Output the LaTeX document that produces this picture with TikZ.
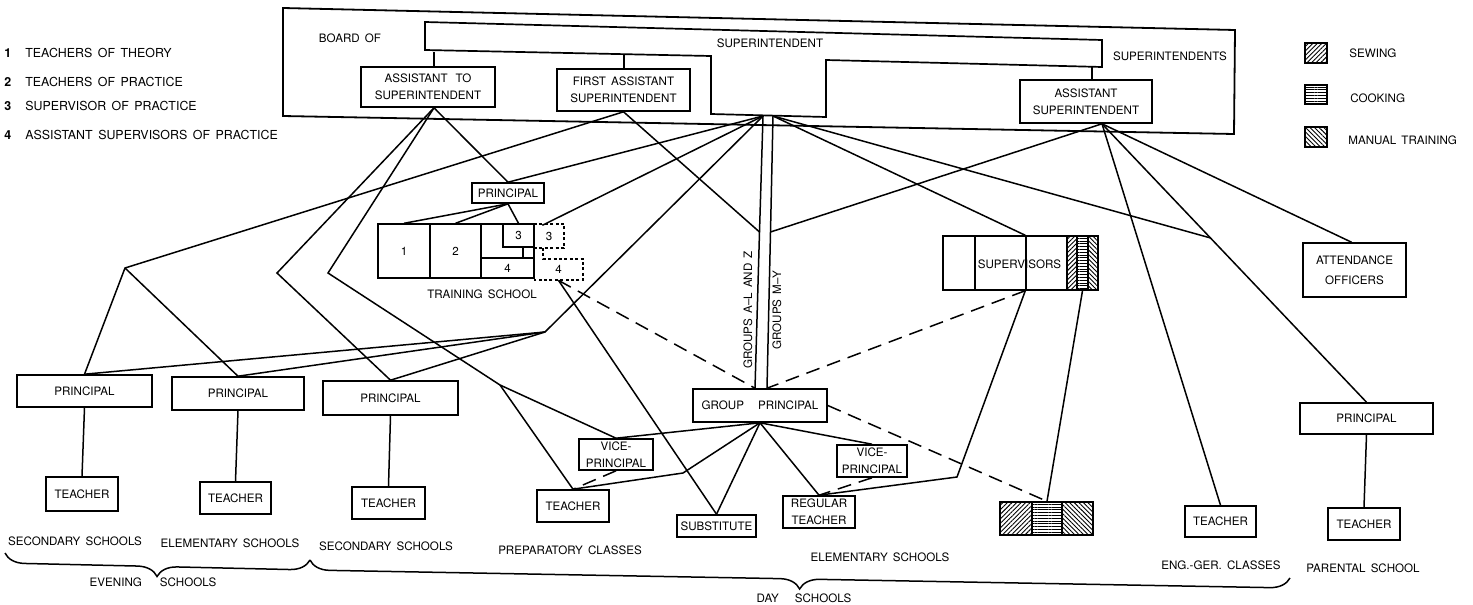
\documentclass[tikz,border=0pt]{standalone}
\usepackage{fontspec}
\setmainfont{TeX Gyre Heros}[WordSpace=1.6]
\usetikzlibrary{calc,patterns.meta,decorations.pathreplacing}
\newcommand\bxf{\fontsize{5.8}{8.5}\selectfont}
\newcommand\lgf{\fontsize{6.2}{7}\selectfont}
\begin{document}
\begin{tikzpicture}[x=0.5pt,y=-0.5pt,
  R/.style n args={4}{at={({(#1+#3)/2},{(#2+#4)/2})},minimum width={(#3-#1)*0.5pt},minimum height={(#4-#2)*0.5pt}},
  bx/.style={draw,line width=0.8pt,inner sep=0pt,align=center,font=\bxf},
  cell/.style={draw,line width=0.7pt,inner sep=0pt,font=\bxf},
  txt/.style={inner sep=0pt,font=\bxf,align=center},
  lgd/.style={inner sep=0pt,font=\lgf,anchor=west},
  lgn/.style={inner sep=0pt,font=\lgf\bfseries,anchor=west},
  lgr/.style={inner sep=0pt,font=\bxf,anchor=west},
  ln/.style={line width=0.75pt},
  dl/.style={line width=0.75pt,dash pattern=on 7pt off 4pt},
  dbox/.style={line width=0.7pt,dash pattern=on 1.5pt off 1.2pt},
  sew/.style={pattern={Lines[angle=45,distance=1.6pt,line width=0.45pt]}},
  cook/.style={pattern={Lines[angle=0,distance=1.4pt,line width=0.45pt]}},
  man/.style={pattern={Lines[angle=-45,distance=1.6pt,line width=0.45pt]}},
  brc/.style={decorate,decoration={brace,mirror,amplitude=10pt},line width=0.75pt},
]
\useasboundingbox (0,0) rectangle (1473,605);

% ---------- left legend
\node[lgn] (k1) at (4,53) {1};
\node[lgd] (k1t) at (25,53) {TEACHERS OF THEORY};
\node[lgn] (k2) at (4,82) {2};
\node[lgd] (k2t) at (25,82) {TEACHERS OF PRACTICE};
\node[lgn] (k3) at (4,106) {3};
\node[lgd] (k3t) at (25,106) {SUPERVISOR OF PRACTICE};
\node[lgn] (k4) at (4,135) {4};
\node[lgd] (k4t) at (25,135) {ASSISTANT SUPERVISORS OF PRACTICE};

% ---------- right legend
\node[cell,sew,R={1305}{43}{1327}{63}] (lsew) {};
\node[lgr] (lsewt) at (1349,53) {SEWING};
\node[cell,cook,R={1305}{85}{1327}{104}] (lcook) {};
\node[lgr] (lcookt) at (1350,98) {COOKING};
\node[cell,man,R={1305}{127}{1327}{147}] (lman) {};
\node[lgr] (lmant) at (1348,140) {MANUAL TRAINING};

% ---------- board of superintendents
\draw[line width=0.9pt] (283,8) -- (1235,30) -- (1234,134) -- (283,116) -- cycle;
\node[txt] (boardof) at (350,38) {BOARD OF};
\node[txt] (supts) at (1170,56) {SUPERINTENDENTS};
\draw[line width=0.85pt] (425,22) -- (1102,40) -- (1102,67) -- (826,60) -- (826,117)
  -- (711,114) -- (711,56) -- (425,50) -- cycle;
\node[txt] (supt) at (770,43) {SUPERINTENDENT};
\coordinate (supL) at (763,116);
\coordinate (supR) at (773,116);
\coordinate (barA) at (434,52);
\coordinate (barB) at (624,54);
\coordinate (barC) at (1092,67);

\node[bx,R={361}{67}{495}{107}] (ats) {ASSISTANT\hspace{4pt}TO\\SUPERINTENDENT};
\node[bx,R={557}{69}{690}{111}] (fas) {FIRST ASSISTANT\\SUPERINTENDENT};
\node[bx,R={1020}{80}{1152}{123}] (asp) {ASSISTANT\\SUPERINTENDENT};
\draw[ln] (barA) -- (barA |- ats.north);
\draw[ln] (barB) -- (barB |- fas.north);
\draw[ln] (barC) -- (barC |- asp.north);
\coordinate (atsB) at ($(ats.south)+(6,0)$);
\coordinate (aspB) at ($(asp.south)+(16,0)$);

% ---------- training school
\node[bx,R={472}{183}{544}{203}] (tp) {PRINCIPAL};
\node[cell,R={378}{224}{430}{278}] (c1) {1};
\node[cell,R={430}{224}{481}{278}] (c2) {2};
\node[cell,R={481}{224}{534}{278}] (cR) {};
\node[cell,R={503}{224}{534}{247}] (c3) {3};
\node[cell,R={523}{247}{534}{258}] (c3s) {};
\node[cell,R={481}{258}{534}{278}] (c4) {4};
\node[cell,dbox,R={534}{224}{564}{248}] (d3) {3};
\node[txt,R={534}{259}{583}{280}] (d4) {4};
\draw[dbox] (543,248) -- (543,259) -- (583,259) -- (583,280) -- (534,280);
\node[txt] (tslbl) at (482,294) {TRAINING SCHOOL};

% ---------- supervisors
\node[cell,R={943}{236}{975}{290}] (sv1) {};
\node[cell,R={975}{236}{1026}{290}] (sv2) {};
\node[cell,R={1026}{236}{1067}{290}] (sv3) {};
\node[cell,sew,R={1067}{236}{1077}{290}] (sv4) {};
\node[cell,cook,R={1077}{236}{1088}{290}] (sv5) {};
\node[cell,man,R={1088}{236}{1098}{290}] (sv6) {};
\node[txt] (svt) at (1019.5,264) {SUPERVISORS};

\node[bx,R={1303}{243}{1406}{297},font=\fontsize{5.8}{10}\selectfont] (att) {ATTENDANCE\\OFFICERS};

% ---------- day schools
\node[bx,R={693}{389}{827}{422}] (gp) {GROUP\hspace{7pt}PRINCIPAL};
\node[bx,R={579}{439}{653}{470}] (vpl) {VICE-\\PRINCIPAL};
\node[bx,R={537}{490}{609}{522}] (tch) {TEACHER};
\node[bx,R={677}{515}{756}{537}] (sub) {SUBSTITUTE};
\node[bx,R={837}{445}{907}{477}] (vpr) {VICE-\\PRINCIPAL};
\node[bx,R={783}{496}{855}{528}] (rt) {REGULAR\\TEACHER};
\node[cell,sew,R={1000}{502}{1032}{535}] (hb1) {};
\node[cell,cook,R={1032}{502}{1062}{535}] (hb2) {};
\node[cell,man,R={1062}{502}{1093}{535}] (hb3) {};
\node[bx,R={1185}{506}{1256}{537}] (et) {TEACHER};
\node[bx,R={1300}{403}{1433}{434}] (pp) {PRINCIPAL};
\node[bx,R={1328}{508}{1400}{540}] (pt) {TEACHER};

% ---------- evening schools
\node[bx,R={17}{375}{152}{407}] (p1) {PRINCIPAL};
\node[bx,R={46}{477}{118}{511}] (t1) {TEACHER};
\node[bx,R={172}{377}{304}{410}] (p2) {PRINCIPAL};
\node[bx,R={200}{482}{271}{514}] (t2) {TEACHER};
\node[bx,R={323}{381}{458}{415}] (p3) {PRINCIPAL};
\node[bx,R={352}{487}{425}{519}] (t3) {TEACHER};

% ---------- labels
\node[txt] (l1) at (75,541) {SECONDARY SCHOOLS};
\node[txt] (l2) at (230,543) {ELEMENTARY SCHOOLS};
\node[txt] (l3) at (386,546) {SECONDARY SCHOOLS};
\node[txt] (l4) at (570,550) {PREPARATORY CLASSES};
\node[txt] (l5) at (880,557) {ELEMENTARY SCHOOLS};
\node[txt] (l6) at (1221,565) {ENG.-GER. CLASSES};
\node[txt] (l7) at (1363,568) {PARENTAL SCHOOL};
\node[txt,rotate=90] (gal) at (748,310) {GROUPS A--L AND Z};
\node[txt,rotate=90] (gmy) at (777,310) {GROUPS M--Y};

\draw[brc] (5,553) -- (310,560);
\draw[brc] (310,560) -- (1290,578);
\node[txt] (eve) at (153,582) {EVENING\hspace{9pt}SCHOOLS};
\node[txt] (day) at (804,598) {DAY\hspace{8pt}SCHOOLS};

% ---------- junctions
\coordinate (jA) at (125,268);
\coordinate (jB) at (277,273);
\coordinate (jC) at (328,273);
\coordinate (jD) at (545,332);
\coordinate (jP) at (500,385);
\coordinate (jE) at (759.5,232);
\coordinate (jF) at (770.5,232);
\coordinate (jH) at (683,473);
\coordinate (jI) at (957,477);
\coordinate (jG) at ($(aspB)!0.41!(pp.north)$);
\coordinate (gpL) at ($(gp.north)+(-5,0)$);
\coordinate (gpR) at ($(gp.north)+(7,0)$);
\coordinate (attT) at ($(att.north)+(-3,0)$);

% ---------- connectors
\draw[ln] (atsB) -- (tp.north);
\draw[ln] (atsB) -- (jB) -- (p3.north);
\draw[ln] (atsB) -- (jC) -- (jP) -- (vpl.north);
\draw[ln] (jP) -- (tch.north);
\draw[ln] (fas.south) -- (jA) -- (p1.north);
\draw[ln] (jA) -- (p2.north);
\draw[ln] (fas.south) -- (jE);
\draw[ln] (supL) -- (tp.north);
\draw[ln] (supL) -- ($(d3.north west)+(9,2)$);
\draw[ln] (supL) -- (jD) -- (p1.north);
\draw[ln] (jD) -- (p2.north);
\draw[ln] (jD) -- (p3.north);
\draw[ln] (supL) -- (jE) -- (gpL);
\draw[ln] (supR) -- (jF) -- (gpR);
\draw[ln] (supR) -- (sv3.north west);
\draw[ln] (supR) -- (jG);
\draw[ln] (aspB) -- (jF);
\draw[ln] (aspB) -- (attT);
\draw[ln] (aspB) -- (jG) -- (pp.north);
\draw[ln] (aspB) -- (et.north);
\draw[ln] (tp.south) -- (c1.north);
\draw[ln] (tp.south) -- (c2.north);
\draw[ln] (tp.south) -- (c3.north);
\draw[ln] (d4.south) -- (sub.north);
\draw[dl] (d4.south) -- (gpL);
\draw[ln] (gp.south) -- (vpl.north);
\draw[ln] (gp.south) -- (jH) -- (tch.north);
\draw[ln] (gp.south) -- (sub.north);
\draw[ln] (gp.south) -- (rt.north);
\draw[ln] (gp.south) -- (vpr.north);
\draw[dl] (vpl.south) -- (tch.north);
\draw[dl] (vpr.south) -- (rt.north);
\draw[dl] (sv3.south west) -- (gpR);
\draw[ln] (sv3.south west) -- (jI) -- (rt.north);
\draw[ln] (sv5.south) -- (hb2.north);
\draw[dl] (gp.east) -- (hb2.north);
\draw[ln] (p1.south) -- (t1.north);
\draw[ln] (p2.south) -- (t2.north);
\draw[ln] (p3.south) -- (t3.north);
\draw[ln] (pp.south) -- (pt.north);
\end{tikzpicture}
\end{document}
